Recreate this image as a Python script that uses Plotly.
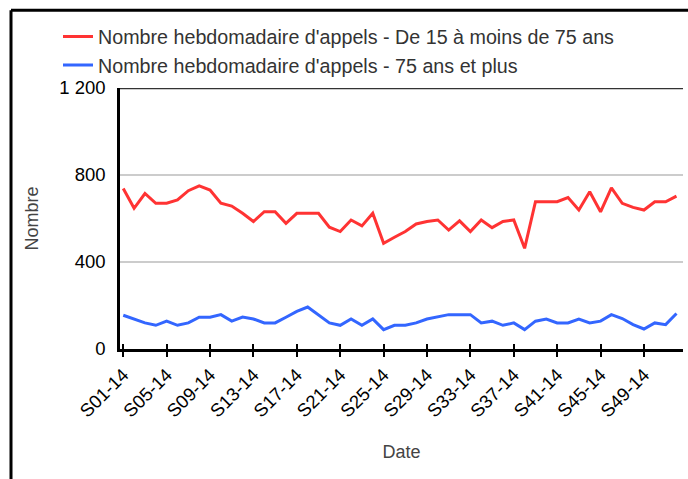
import plotly.graph_objects as go

weeks = ["S%02d-14" % i for i in range(1, 53)]

red_vals = [738, 647, 715, 670, 670, 685, 728, 750, 731, 670,
            657, 624, 586, 631, 631, 578, 624, 624, 624, 560,
            540, 593, 566, 624, 486, 514, 540, 575, 586, 593,
            547, 589, 540, 593, 558, 586, 593, 463, 677, 677,
            677, 696, 639, 723, 631, 741, 670, 651, 639, 677,
            677, 703]

blue_vals = [155, 138, 120, 109, 128, 109, 120, 146, 146, 158,
             128, 147, 138, 120, 120, 146, 173, 193, 155, 120,
             109, 138, 109, 138, 89, 109, 109, 120, 138, 147,
             158, 158, 158, 120, 128, 109, 120, 89, 128, 138,
             120, 120, 138, 120, 128, 158, 140, 112, 92, 120,
             112, 163]

red_name = "Nombre hebdomadaire d'appels - De 15 à moins de 75 ans"
blue_name = "Nombre hebdomadaire d'appels - 75 ans et plus"

x_tick_labels = weeks[::4]
y_tick_vals = [0, 400, 800, 1200]
y_tick_text = ["0", "400", "800", "1 200"]

W, H = 688, 479
ml, mr, mt, mb = 120, 5, 88, 129.5
pw, ph = W - ml - mr, H - mt - mb

def px_x(p):
    return (p - ml) / pw

def px_y(p):
    return (H - mb - p) / ph

fig = go.Figure()
fig.add_trace(go.Scatter(x=weeks, y=red_vals, mode="lines", name=red_name,
                         line=dict(color="#ff3333", width=3)))
fig.add_trace(go.Scatter(x=weeks, y=blue_vals, mode="lines", name=blue_name,
                         line=dict(color="#3366ff", width=3)))
# invisible trace on overlay axis for crossing ticks
fig.add_trace(go.Scatter(x=weeks, y=[None] * len(weeks), xaxis="x2",
                         showlegend=False, hoverinfo="skip"))

font = "Liberation Sans, Arial, sans-serif"

fig.update_layout(
    width=W, height=H,
    margin=dict(l=ml, r=mr, t=mt, b=mb, pad=0),
    paper_bgcolor="white", plot_bgcolor="white",
    font=dict(family=font, color="#000000"),
    showlegend=True,
    legend=dict(x=px_x(58), y=px_y(17), xanchor="left", yanchor="top",
                font=dict(size=19.7, color="#333333", family=font),
                bgcolor="rgba(0,0,0,0)", tracegroupgap=0, itemwidth=30),
    xaxis=dict(type="category", range=[-0.3, 51.6],
               tickmode="array", tickvals=x_tick_labels, ticktext=x_tick_labels,
               tickangle=-45, tickfont=dict(size=18.5, color="#000000"),
               ticks="outside", ticklen=5, tickwidth=1.5, tickcolor="#000000",
               showgrid=False, zeroline=False,
               showline=True, linecolor="#000000", linewidth=2.5,
               title=dict(text="Date", font=dict(size=18, color="#444444"), standoff=26)),
    xaxis2=dict(type="category", range=[-0.3, 51.6], overlaying="x", anchor="y",
                side="bottom", tickmode="array", tickvals=x_tick_labels,
                showticklabels=False, ticks="inside", ticklen=5, tickwidth=1.5,
                tickcolor="#000000", showgrid=False, zeroline=False, showline=False),
    yaxis=dict(range=[0, 1200], tickmode="array", tickvals=y_tick_vals,
               ticktext=y_tick_text, tickfont=dict(size=18.5, color="#000000"),
               showgrid=True, gridcolor="#cccccc", gridwidth=2,
               zeroline=False, showline=True, linecolor="#000000", linewidth=2.5,
               ticks="", ticklabelstandoff=8,
               title=dict(text="Nombre", font=dict(size=18, color="#444444"), standoff=16)),
)

# dark top line at 1200
fig.add_shape(type="line", xref="paper", yref="y", x0=0, x1=1, y0=1200, y1=1200,
              line=dict(color="#333333", width=2.5), layer="above")
# outer frame (left and top edges)
fig.add_shape(type="line", xref="paper", yref="paper",
              x0=px_x(11), x1=px_x(11), y0=px_y(490), y1=px_y(10),
              line=dict(color="#000000", width=3))
fig.add_shape(type="line", xref="paper", yref="paper",
              x0=px_x(11), x1=px_x(700), y0=px_y(10), y1=px_y(10),
              line=dict(color="#000000", width=3))

fig.write_html("out.html", config={"displayModeBar": False},
               post_script="document.body.style.margin='0';")
